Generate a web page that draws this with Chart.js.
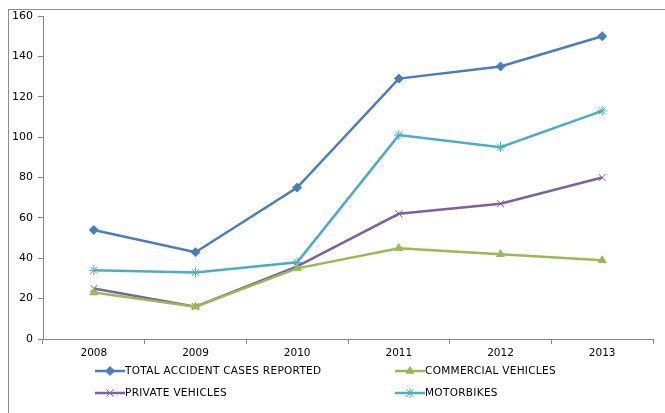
<!DOCTYPE html>
<html>
<head>
<meta charset="utf-8">
<script src="https://cdn.jsdelivr.net/npm/chart.js@4/dist/chart.umd.min.js"></script>
<style>
  body { margin: 0; background: #fff; }
  #wrap { position: relative; width: 665px; height: 413px; overflow: hidden; }
  #frame { position: absolute; left: 8px; top: 9px; width: 700px; height: 450px; border: 1px solid #8c8c8c; }
  canvas { position: absolute; left: 0; top: 0; }
</style>
</head>
<body>
<div id="wrap">
  <div id="frame"></div>
  <canvas id="accidentChart" width="665" height="413"></canvas>
</div>
<script>
const years = ['2008', '2009', '2010', '2011', '2012', '2013'];
const totalCases = [54, 43, 75, 129, 135, 150];
const commercialVehicles = [23, 16, 35, 45, 42, 39];
const privateVehicles = [25, 16, 36, 62, 67, 80];
const motorbikes = [34, 33, 38, 101, 95, 113];

const axisColor = '#868686';
const fontFamily = 'DejaVu Sans, Verdana, sans-serif';

function series(label, data, color, style, radius) {
    return {
        label: label,
        data: data,
        borderColor: color,
        backgroundColor: color,
        borderWidth: 2.5,
        pointStyle: style,
        pointRadius: radius,
        pointHoverRadius: radius,
        pointBorderWidth: 1,
        tension: 0
    };
}

// two column legend under the axis, line with its marker then the name
const legendPlugin = {
    id: 'gridLegend',
    afterDraw(chart) {
        const ctx = chart.ctx;
        const cols = [95, 395];
        const rows = [371, 393];
        ctx.save();
        ctx.font = '10.5px ' + fontFamily;
        ctx.letterSpacing = '0.3px';
        ctx.textBaseline = 'middle';
        chart.data.datasets.forEach((ds, i) => {
            const x = cols[i % 2];
            const y = rows[Math.floor(i / 2)];
            ctx.strokeStyle = ds.borderColor;
            ctx.lineWidth = 2.5;
            ctx.beginPath();
            ctx.moveTo(x, y);
            ctx.lineTo(x + 30, y);
            ctx.stroke();
            ctx.fillStyle = ds.backgroundColor;
            ctx.lineWidth = 1;
            Chart.helpers.drawPoint(ctx, {
                pointStyle: ds.pointStyle,
                radius: ds.pointRadius,
                rotation: 0,
                borderWidth: 1
            }, x + 15, y);
            ctx.fillStyle = '#000';
            ctx.fillText(ds.label, x + 30, y + 0.5);
        });
        ctx.restore();
    }
};

new Chart(document.getElementById('accidentChart'), {
    type: 'line',
    data: {
        labels: years,
        datasets: [
            series('TOTAL ACCIDENT CASES REPORTED', totalCases, '#4A7EBB', 'rectRot', 4.5),
            series('COMMERCIAL VEHICLES', commercialVehicles, '#98B954', 'triangle', 4.5),
            series('PRIVATE VEHICLES', privateVehicles, '#7D60A0', 'crossRot', 5),
            series('MOTORBIKES', motorbikes, '#4BACC6', 'star', 5)
        ]
    },
    options: {
        responsive: false,
        animation: false,
        layout: { padding: { left: 8, right: 12, top: 16, bottom: 0 } },
        plugins: {
            legend: { display: false },
            tooltip: { enabled: false }
        },
        scales: {
            x: {
                offset: true,
                grid: { offset: true, drawOnChartArea: false, tickLength: 5, color: axisColor },
                border: { color: axisColor },
                ticks: { color: '#000', font: { family: fontFamily, size: 10.5 }, padding: 3, maxRotation: 0 },
                afterFit(scale) { scale.height = 74; }
            },
            y: {
                min: 0,
                max: 160,
                grid: { drawOnChartArea: false, tickLength: 5, color: axisColor },
                border: { color: axisColor },
                ticks: { stepSize: 20, color: '#000', font: { family: fontFamily, size: 11 }, padding: 5 },
                afterFit(scale) { scale.width = 35; }
            }
        }
    },
    plugins: [legendPlugin]
});
</script>
</body>
</html>
